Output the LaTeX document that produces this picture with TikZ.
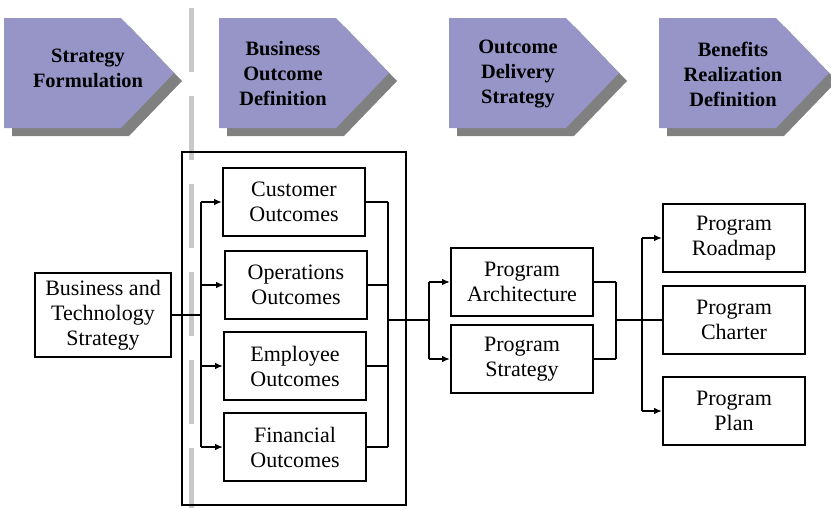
\documentclass[tikz,border=0pt]{standalone}
\usepackage{fontspec}
\setmainfont{Liberation Serif}
\usepackage{tikz}
\usetikzlibrary{arrows.meta,positioning,calc}

\definecolor{phasefill}{RGB}{151,149,200}
\definecolor{phaseshadow}{RGB}{128,128,128}
\definecolor{divider}{RGB}{200,200,200}

\tikzset{
  phasetext/.style={align=center, font=\fontsize{15.3}{18.75}\selectfont\bfseries},
  stepbox/.style={draw, line width=1.5pt, align=center, minimum width=106.5pt,
    minimum height=51pt, inner sep=2pt, font=\fontsize{16.5}{18.75}\selectfont},
  link/.style={line width=1.5pt},
  arrowlink/.style={line width=1.5pt, -{Latex[length=6pt,width=5pt]}}
}

\begin{document}
\begin{tikzpicture}[x=0.75pt, y=-0.75pt]
    \useasboundingbox (0,0) rectangle (831,508);

    % Phases
    \foreach \x in {4,219,449,659} {
        \fill[phaseshadow] (\x+8,26) -- (\x+125,26) -- (\x+178,81) -- (\x+125,136) -- (\x+8,136) -- cycle;
        \fill[phasefill] (\x,18) -- (\x+117,18) -- (\x+170,73) -- (\x+117,128) -- (\x,128) -- cycle;
    }
    \node[phasetext] (phStrategy) at (88,68) {Strategy\\Formulation};
    \node[phasetext] (phOutcome) at (283,74) {Business\\Outcome\\Definition};
    \node[phasetext] (phDelivery) at (518,74) {Outcome\\Delivery\\Strategy};
    \node[phasetext] (phBenefits) at (733,74) {Benefits\\Realization\\Definition};

    % Divider
    \draw[divider, line width=3.75pt, dash pattern=on 48pt off 18pt] (191,8) -- (191,508);

    % Outcome group
    \draw[link] (182,152) rectangle (406,505);

    % Boxes
    \node[stepbox, minimum width=102pt, minimum height=63pt] (bts) at (103,315) {Business and\\Technology\\Strategy};
    \node[stepbox] (cust) at (294,202) {Customer\\Outcomes};
    \node[stepbox] (oper) at (296,285) {Operations\\Outcomes};
    \node[stepbox] (empl) at (295,366) {Employee\\Outcomes};
    \node[stepbox] (fin) at (295,447) {Financial\\Outcomes};
    \node[stepbox] (arch) at (522,282) {Program\\Architecture};
    \node[stepbox] (strat) at (522,359) {Program\\Strategy};
    \node[stepbox] (road) at (734,238) {Program\\Roadmap};
    \node[stepbox] (chart) at (734,320) {Program\\Charter};
    \node[stepbox] (plan) at (734,411) {Program\\Plan};

    % Connectors
    \coordinate (splitL) at (201,315);
    \coordinate (joinL) at (388,320);
    \coordinate (splitM) at (429,320);
    \coordinate (joinM) at (616,320);
    \coordinate (splitR) at (642,320);

    \draw[link] (bts) -- (splitL);
    \draw[link] (splitL |- cust) -- (splitL |- fin);
    \foreach \n in {cust,oper,empl,fin} {
        \draw[arrowlink] (splitL |- \n) -- (\n);
        \draw[link] (\n.east) -- (joinL |- \n);
    }
    \draw[link] (joinL |- cust) -- (joinL |- fin);
    \draw[link] (joinL) -- (splitM);

    \draw[link] (splitM |- arch) -- (splitM |- strat);
    \foreach \n in {arch,strat} {
        \draw[arrowlink] (splitM |- \n) -- (\n);
        \draw[link] (\n.east) -- (joinM |- \n);
    }
    \draw[link] (joinM |- arch) -- (joinM |- strat);
    \draw[link] (joinM) -- (splitR);

    \draw[link] (splitR |- road) -- (splitR |- plan);
    \draw[arrowlink] (splitR |- road) -- (road);
    \draw[link] (splitR |- chart) -- (chart);
    \draw[arrowlink] (splitR |- plan) -- (plan);
\end{tikzpicture}
\end{document}
